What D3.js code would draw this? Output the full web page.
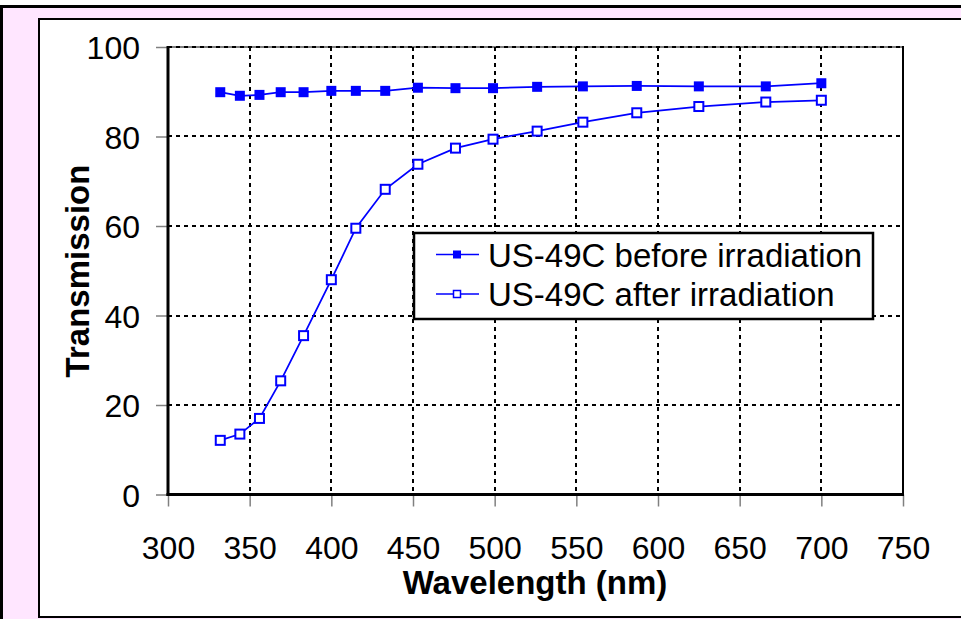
<!DOCTYPE html>
<html>
<head>
<meta charset="utf-8">
<script src="https://cdn.jsdelivr.net/npm/d3@7"></script>
<style>
  body { margin: 0; background: #fff; }
  svg { display: block; font-family: "Liberation Sans", Arial, sans-serif; }
</style>
</head>
<body>
<svg id="chart" width="961" height="619"></svg>
<script>
// values
const wavelengths = [332, 344, 356, 369, 383, 400, 415, 433, 453, 476, 499, 526, 554, 587, 625, 666, 700];
const beforeIrr = [89.9, 89.1, 89.3, 89.9, 89.9, 90.2, 90.2, 90.2, 90.9, 90.8, 90.8, 91.1, 91.2, 91.3, 91.2, 91.2, 91.9];
const afterIrr = [12.1, 13.5, 17.0, 25.4, 35.5, 48.0, 59.5, 68.2, 73.8, 77.4, 79.4, 81.2, 83.2, 85.3, 86.7, 87.7, 88.1];
const seriesNames = ["US-49C before irradiation", "US-49C after irradiation"];
const xTicks = [300, 350, 400, 450, 500, 550, 600, 650, 700, 750];
const yTicks = [0, 20, 40, 60, 80, 100];

const W = 961, H = 619;
const pLeft = 168, pRight = 903, pTop = 47, pBottom = 494.5;
const blue = "#0000ff";

const svg = d3.select("#chart");

// outer frame
svg.append("rect").attr("x", 0).attr("y", 6).attr("width", W).attr("height", H - 6).attr("fill", "#ffe6ff");
svg.append("line").attr("x1", 0).attr("x2", W).attr("y1", 6.5).attr("y2", 6.5).attr("stroke", "#000").attr("stroke-width", 3);
svg.append("line").attr("x1", 1.5).attr("x2", 1.5).attr("y1", 5).attr("y2", H).attr("stroke", "#000").attr("stroke-width", 3);
svg.append("rect").attr("x", 39).attr("y", 19).attr("width", W).attr("height", 598)
  .attr("fill", "#fff").attr("stroke", "#000").attr("stroke-width", 2);

const x = d3.scaleLinear().domain([300, 750]).range([pLeft, pRight]);
const y = d3.scaleLinear().domain([0, 100]).range([pBottom, pTop]);

// grid (snapped to whole pixels so the dots stay crisp)
const grid = svg.append("g").attr("stroke", "#000").attr("stroke-width", 2).attr("stroke-dasharray", "4,4");
grid.selectAll(".vg").data(xTicks.slice(1, -1)).enter().append("line")
  .attr("x1", d => Math.round(x(d))).attr("x2", d => Math.round(x(d))).attr("y1", pTop).attr("y2", pBottom);
grid.selectAll(".hg").data(yTicks.slice(1)).enter().append("line")
  .attr("x1", pLeft).attr("x2", pRight).attr("y1", d => Math.round(y(d))).attr("y2", d => Math.round(y(d)));

// plot frame
svg.append("line").attr("x1", pRight).attr("x2", pRight).attr("y1", pTop - 1).attr("y2", pBottom).attr("stroke", "#000").attr("stroke-width", 2);
svg.append("line").attr("x1", pLeft).attr("x2", pRight + 1).attr("y1", pTop).attr("y2", pTop).attr("stroke", "#000").attr("stroke-width", 1);

// axes
const xAxis = svg.append("g").attr("transform", `translate(0,${pBottom})`)
  .call(d3.axisBottom(x).tickValues(xTicks).tickSize(12).tickPadding(30));
const yAxis = svg.append("g").attr("transform", `translate(${pLeft},0)`)
  .call(d3.axisLeft(y).tickValues(yTicks).tickSize(12).tickPadding(16));
[xAxis, yAxis].forEach(a => {
  a.select(".domain").remove();
  a.selectAll(".tick line").attr("stroke", "#808080").attr("stroke-width", 1.5);
  a.selectAll(".tick text").attr("fill", "#000").style("font-size", "32px")
    .style("font-family", "'Liberation Sans', Arial, sans-serif");
});
xAxis.selectAll(".tick text").attr("dy", "0.69em");
yAxis.selectAll(".tick text").attr("dy", "0.36em");

svg.append("line").attr("x1", pLeft).attr("x2", pLeft).attr("y1", pTop - 1).attr("y2", pBottom + 1.5).attr("stroke", "#000").attr("stroke-width", 3);
svg.append("line").attr("x1", pLeft - 1.5).attr("x2", pRight + 1).attr("y1", pBottom).attr("y2", pBottom).attr("stroke", "#000").attr("stroke-width", 3);

// axis titles
svg.append("text").attr("x", 535).attr("y", 594).attr("text-anchor", "middle")
  .style("font-size", "33px").style("font-weight", "bold").text("Wavelength (nm)");
svg.append("text").attr("transform", "translate(89,271) rotate(-90)").attr("text-anchor", "middle")
  .style("font-size", "33px").style("font-weight", "bold").text("Transmission");

// series
const line = d3.line().x(d => x(d[0])).y(d => y(d[1]));
const before = wavelengths.map((w, i) => [w, beforeIrr[i]]);
const after = wavelengths.map((w, i) => [w, afterIrr[i]]);

svg.append("path").datum(before).attr("d", line).attr("fill", "none").attr("stroke", blue).attr("stroke-width", 1.75);
svg.append("path").datum(after).attr("d", line).attr("fill", "none").attr("stroke", blue).attr("stroke-width", 1.75);

svg.selectAll(".mb").data(before).enter().append("rect")
  .attr("x", d => x(d[0]) - 5).attr("y", d => y(d[1]) - 5).attr("width", 10).attr("height", 10)
  .attr("fill", blue);
svg.selectAll(".ma").data(after).enter().append("rect")
  .attr("x", d => x(d[0]) - 4.5).attr("y", d => y(d[1]) - 4.5).attr("width", 9).attr("height", 9)
  .attr("fill", "#fff").attr("stroke", blue).attr("stroke-width", 2);

// legend
const lg = svg.append("g");
lg.append("rect").attr("x", 414).attr("y", 233).attr("width", 459).attr("height", 86)
  .attr("fill", "#fff").attr("stroke", "#000").attr("stroke-width", 2.5);
const rows = [254.5, 294];
seriesNames.forEach((name, i) => {
  lg.append("line").attr("x1", 436).attr("x2", 479).attr("y1", rows[i]).attr("y2", rows[i])
    .attr("stroke", blue).attr("stroke-width", 1.5);
  if (i === 0) {
    lg.append("rect").attr("x", 453).attr("y", rows[i] - 4).attr("width", 8).attr("height", 8).attr("fill", blue);
  } else {
    lg.append("rect").attr("x", 453.5).attr("y", rows[i] - 3.5).attr("width", 7).attr("height", 7)
      .attr("fill", "#fff").attr("stroke", blue).attr("stroke-width", 1.5);
  }
  lg.append("text").attr("x", 488).attr("y", rows[i] + 12).style("font-size", "33px").text(name);
});
</script>
</body>
</html>
